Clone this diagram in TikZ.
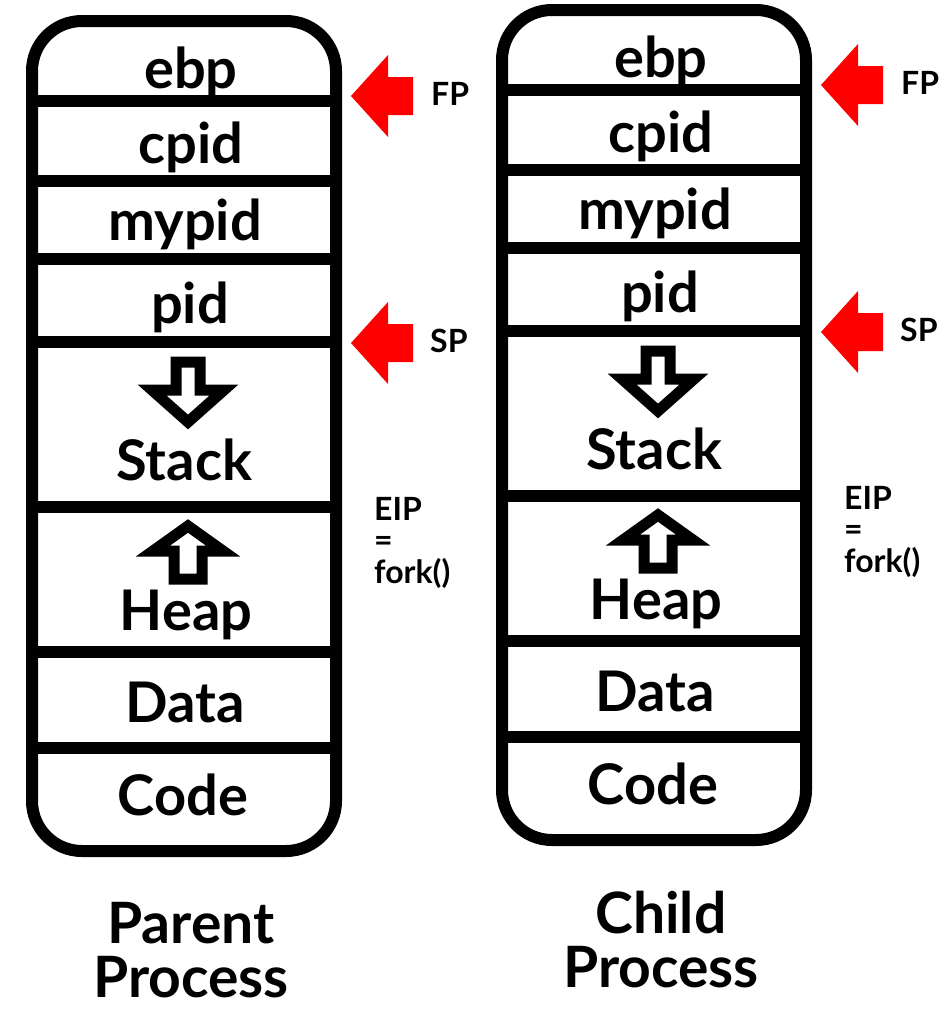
\documentclass[tikz,border=0pt]{standalone}
\usepackage{fontspec}
\setmainfont{Lato}
\tikzset{
  x=1pt, y=-1pt,
  frame/.style={line width=12pt, rounded corners=50pt},
  divider/.style={line width=12pt},
  cell/.style={font=\fontsize{56}{60}\selectfont\bfseries, anchor=base, inner sep=0pt},
  ptr/.style={fill=red, draw=none},
  ptrlbl/.style={font=\fontsize{32}{32}\selectfont\bfseries, anchor=base west, inner sep=0pt},
  eiplbl/.style={font=\fontsize{32}{31.5}\selectfont\bfseries, align=left, anchor=north west, inner sep=0pt},
  title/.style={font=\fontsize{57}{54}\selectfont\bfseries, align=center, anchor=north, inner sep=0pt},
  growdown/.style={draw, fill=white, line width=11pt, miter limit=10},
  growup/.style={draw, fill=white, line width=11pt, miter limit=10},
}
% one process image: memory column, pointers and caption
% #1 name prefix, #2 shift, #3 caption
\newcommand\processcolumn[3]{%
\begin{scope}[shift={#2}]
  \draw[frame] (32,21) rectangle (336,851);
  \foreach \yy in {101,181,259,342,507,652,748}
    \draw[divider] (32,\yy) -- (336,\yy);
  \node[cell] (#1ebp)   at (191,88)  {ebp};
  \node[cell] (#1cpid)  at (191,163) {cpid};
  \node[cell] (#1mypid) at (185,240) {mypid};
  \node[cell] (#1pid)   at (190,323) {pid};
  \node[cell] (#1stack) at (184,480) {Stack};
  \node[cell] (#1heap)  at (186,630) {Heap};
  \node[cell] (#1data)  at (185,722) {Data};
  \node[cell] (#1code)  at (183,815) {Code};
  % growth directions
  \draw[growdown] (176,362) -- (200,362) -- (200,390) -- (224,390) -- (188,422)
     -- (152,390) -- (176,390) -- cycle;
  \draw[growup] (188,526) -- (223,551) -- (202,551) -- (202,579) -- (174,579)
     -- (174,551) -- (153,551) -- cycle;
  % frame and stack pointers
  \fill[ptr] (351,96) -- (388,55) -- (388,77) -- (413,77) -- (413,115)
     -- (388,115) -- (388,137) -- cycle;
  \node[ptrlbl] (#1fp) at (431,105) {FP};
  \fill[ptr] (351,343) -- (388,302) -- (388,324) -- (413,324) -- (413,362)
     -- (388,362) -- (388,384) -- cycle;
  \node[ptrlbl] (#1sp) at (430,352) {SP};
  \node[eiplbl] (#1eip) at (374,497) {EIP\\=\\fork()};
  \node[title] (#1title) at (191,902) {#3};
\end{scope}}

\begin{document}
\begin{tikzpicture}
  \useasboundingbox (0,0) rectangle (945,1009);
  \processcolumn{p}{(0,0)}{Parent\\Process}
  \processcolumn{c}{(470,-11)}{Child\\Process}
\end{tikzpicture}
\end{document}
